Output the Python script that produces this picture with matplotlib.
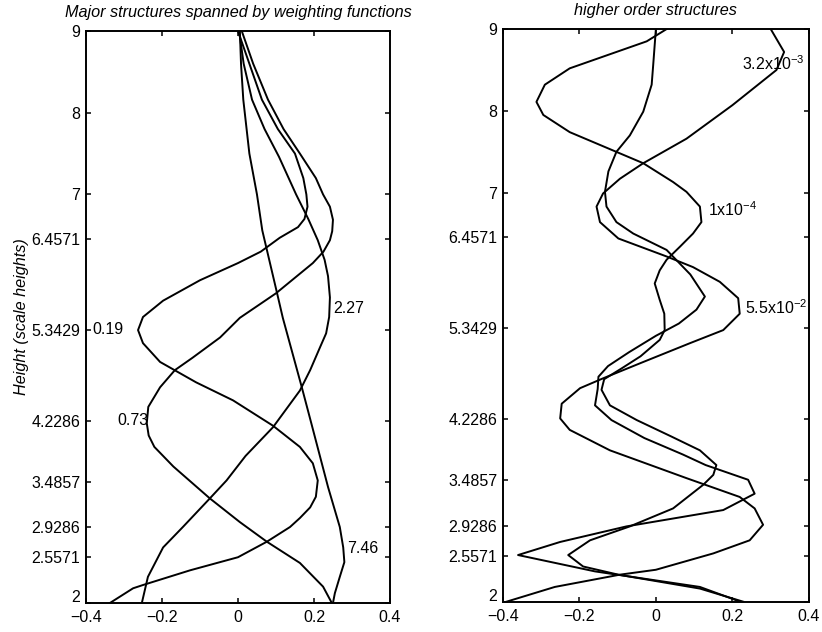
import matplotlib
matplotlib.use("Agg")
import matplotlib.pyplot as plt
from matplotlib.transforms import ScaledTranslation

plt.rcParams['font.family'] = ['Liberation Sans', 'DejaVu Sans']
plt.rcParams['mathtext.default'] = 'regular'

yticks = [2, 2.5571, 2.9286, 3.4857, 4.2286, 5.3429, 6.4571, 7, 8, 9]
ytick_labels = ['2', '2.5571', '2.9286', '3.4857', '4.2286', '5.3429', '6.4571', '7', '8', '9']
xticks = [-0.4, -0.2, 0, 0.2, 0.4]

# ---- left panel: major structures (height, amplitude) ----
h_019 = [9.0, 8.6, 8.16, 7.8, 7.5, 7.2, 7.0, 6.85, 6.7, 6.6, 6.47, 6.3, 6.16, 5.95, 5.7, 5.5,
         5.34, 5.18, 4.95, 4.7, 4.48, 4.17, 3.91, 3.71, 3.5, 3.3, 3.17, 3.04, 2.93, 2.75, 2.56,
         2.40, 2.22, 2.18, 2.0]
w_019 = [0.0, 0.03, 0.063, 0.105, 0.15, 0.172, 0.18, 0.183, 0.175, 0.158, 0.11, 0.06, 0.0, -0.1,
         -0.197, -0.25, -0.263, -0.25, -0.205, -0.11, -0.013, 0.092, 0.163, 0.197, 0.21, 0.205,
         0.19, 0.163, 0.137, 0.076, 0.0, -0.126, -0.25, -0.276, -0.337]

h_073 = [9.0, 8.6, 8.16, 7.8, 7.5, 7.2, 7.0, 6.85, 6.69, 6.55, 6.44, 6.3, 6.16, 5.79, 5.49, 5.25,
         5.0, 4.85, 4.64, 4.4, 4.2, 4.05, 3.91, 3.67, 3.28, 2.99, 2.75, 2.49, 2.2, 2.0]
w_073 = [0.01, 0.04, 0.079, 0.12, 0.163, 0.205, 0.224, 0.242, 0.25, 0.248, 0.242, 0.225, 0.197,
         0.1, 0.005, -0.047, -0.12, -0.166, -0.205, -0.236, -0.24, -0.235, -0.22, -0.17, -0.074,
         0.005, 0.076, 0.163, 0.224, 0.247]

h_227 = [9.0, 8.6, 8.16, 7.8, 7.46, 7.0, 6.7, 6.44, 6.2, 6.0, 5.74, 5.5, 5.3, 5.13, 4.85, 4.6,
         4.15, 3.8, 3.5, 3.28, 2.93, 2.68, 2.32, 2.0]
w_227 = [0.003, 0.015, 0.037, 0.07, 0.108, 0.153, 0.185, 0.21, 0.228, 0.237, 0.242, 0.24, 0.232,
         0.216, 0.19, 0.163, 0.092, 0.02, -0.03, -0.074, -0.145, -0.197, -0.237, -0.253]

h_746 = [9.0, 8.6, 8.16, 7.5, 7.0, 6.56, 5.79, 5.49, 4.64, 4.2, 3.42, 2.93, 2.68, 2.5, 2.32, 2.12, 2.0]
w_746 = [0.005, 0.008, 0.014, 0.03, 0.05, 0.064, 0.103, 0.118, 0.168, 0.193, 0.237, 0.268, 0.277,
         0.28, 0.268, 0.255, 0.25]

# ---- right panel: higher order structures ----
h_32e3 = [9.0, 8.72, 8.5, 8.07, 7.66, 7.36, 7.17, 6.99, 6.83, 6.64, 6.44, 6.22, 6.09, 5.91, 5.71,
          5.52, 5.32, 5.16, 4.93, 4.73, 4.61, 4.42, 4.24, 4.10, 3.85, 3.51, 3.28, 3.14, 2.94, 2.75,
          2.59, 2.39, 2.33, 2.18, 2.0]
w_32e3 = [0.30, 0.335, 0.315, 0.2, 0.08, -0.033, -0.094, -0.138, -0.155, -0.146, -0.098, 0.028,
          0.097, 0.167, 0.215, 0.219, 0.176, 0.089, -0.033, -0.138, -0.198, -0.246, -0.25, -0.225,
          -0.12, 0.08, 0.219, 0.258, 0.28, 0.245, 0.15, 0.0, -0.094, -0.264, -0.39]

h_55e2 = [9.0, 8.56, 8.32, 7.99, 7.70, 7.5, 7.26, 7.01, 6.83, 6.64, 6.5, 6.30, 6.0, 5.73, 5.57,
          5.40, 5.25, 5.05, 4.88, 4.75, 4.6, 4.40, 4.22, 4.0, 3.8, 3.67, 3.49, 3.32, 3.12, 2.92,
          2.73, 2.57, 2.37, 2.18, 2.0]
w_55e2 = [0.0, -0.007, -0.011, -0.033, -0.068, -0.103, -0.124, -0.133, -0.129, -0.103, -0.059,
          0.028, 0.09, 0.128, 0.106, 0.06, 0.0, -0.07, -0.125, -0.15, -0.152, -0.159, -0.116,
          -0.03, 0.07, 0.13, 0.241, 0.258, 0.176, -0.077, -0.25, -0.36, -0.159, 0.115, 0.22]

h_1e4 = [9.0, 8.85, 8.52, 8.32, 8.11, 7.95, 7.74, 7.36, 7.13, 7.01, 6.83, 6.64, 6.5, 6.34, 6.18,
         6.05, 5.89, 5.69, 5.52, 5.32, 5.2, 5.0, 4.85, 4.72, 4.59, 4.40, 4.22, 4.02, 3.85, 3.67,
         3.55, 3.43, 3.14, 2.92, 2.75, 2.57, 2.43, 2.33, 2.16, 2.0]
w_1e4 = [0.028, -0.024, -0.225, -0.29, -0.312, -0.294, -0.225, -0.033, 0.045, 0.08, 0.115, 0.119,
         0.097, 0.063, 0.028, 0.01, -0.003, 0.01, 0.022, 0.023, 0.01, -0.04, -0.09, -0.135, -0.142,
         -0.12, -0.05, 0.04, 0.115, 0.158, 0.15, 0.124, 0.045, -0.068, -0.172, -0.229, -0.19,
         -0.098, 0.115, 0.228]

fig = plt.figure(figsize=(8.22, 6.32), dpi=100)
ax1 = fig.add_axes([0.1046, 0.0459, 0.3698, 0.905])
ax2 = fig.add_axes([0.6116, 0.048, 0.3726, 0.906])

# lift the bottom "2" label a little so it sits above the x labels
lift = ScaledTranslation(0, 5 / 72, fig.dpi_scale_trans)

for ax in (ax1, ax2):
    ax.set_xlim(-0.4, 0.4)
    ax.set_ylim(2, 9)
    ax.set_xticks(xticks)
    ax.set_xticklabels(['\u22120.4', '\u22120.2', '0', '0.2', '0.4'])
    ax.set_yticks(yticks)
    ax.set_yticklabels(ytick_labels)
    ax.tick_params(direction='in', length=3.5, width=1.1, top=True, right=True,
                   labelsize=11.5, color='black')
    ax.tick_params(axis='x', pad=5)
    ax.tick_params(axis='y', pad=4)
    for s in ax.spines.values():
        s.set_linewidth(1.4)
    lbl = ax.get_yticklabels()[0]
    lbl.set_transform(lbl.get_transform() + lift)

lw = 1.4
ax1.plot(w_019, h_019, color='black', lw=lw)
ax1.plot(w_073, h_073, color='black', lw=lw)
ax1.plot(w_227, h_227, color='black', lw=lw)
ax1.plot(w_746, h_746, color='black', lw=lw)

ax1.text(-0.384, 5.3429, '0.19', fontsize=11.5, ha='left', va='center')
ax1.text(-0.318, 4.2286, '0.73', fontsize=11.5, ha='left', va='center')
ax1.text(0.25, 5.61, '2.27', fontsize=11.5, ha='left', va='center')
ax1.text(0.287, 2.67, '7.46', fontsize=11.5, ha='left', va='center')

ax1.set_title('Major structures spanned by weighting functions', fontsize=11.7,
              style='italic', pad=10)
ax1.set_ylabel('Height (scale heights)', fontsize=11.7, style='italic', labelpad=2)

ax2.plot(w_32e3, h_32e3, color='black', lw=lw)
ax2.plot(w_55e2, h_55e2, color='black', lw=lw)
ax2.plot(w_1e4, h_1e4, color='black', lw=lw)

ax2.text(0.225, 8.58, '3.2x10$^{-3}$', fontsize=11.5, ha='left', va='center')
ax2.text(0.136, 6.79, '1x10$^{-4}$', fontsize=11.5, ha='left', va='center')
ax2.text(0.232, 5.59, '5.5x10$^{-2}$', fontsize=11.5, ha='left', va='center')

ax2.set_title('higher order structures', fontsize=11.7, style='italic', pad=10)

fig.savefig('out.png', dpi=100)
